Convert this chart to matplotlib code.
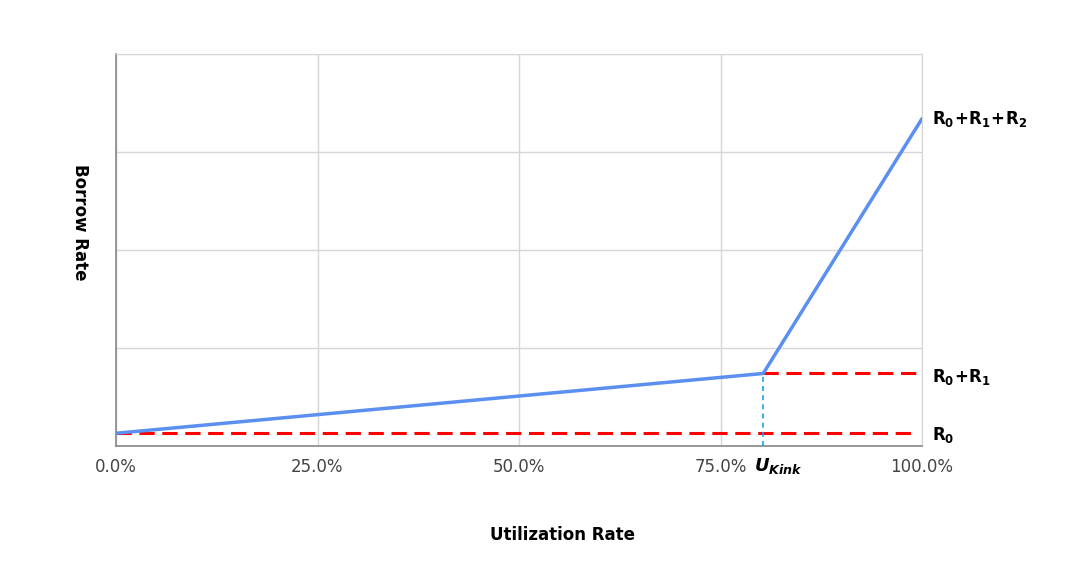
import matplotlib
matplotlib.use("Agg")
import matplotlib.pyplot as plt

# data
util = [0.0, 0.803, 1.0]
rate = [0.13, 0.74, 3.34]
r0 = 0.13
r01 = 0.74
r012 = 3.34
u_kink = 0.803
xticks = [0.0, 0.25, 0.5, 0.75, 1.0]
xtick_labels = ["0.0%", "25.0%", "50.0%", "75.0%", "100.0%"]
yticks = [0, 1, 2, 3, 4]

fig = plt.figure(figsize=(10.7, 5.76), dpi=100)
ax = fig.add_axes([116/1070, 1-446/576, (922-116)/1070, (446-54)/576])
ax.set_xlim(0, 1)
ax.set_ylim(0, 4)

ax.set_xticks(xticks)
ax.set_xticklabels(xtick_labels, fontsize=12, color="#444444")
ax.set_yticks(yticks)
ax.set_yticklabels([])
ax.tick_params(length=0, pad=9)
ax.grid(True, color="#d6d6d6", linewidth=1)
ax.set_axisbelow(True)
for s in ["top", "right"]:
    ax.spines[s].set_color("#d6d6d6")
for s in ["left", "bottom"]:
    ax.spines[s].set_color("#888888")
    ax.spines[s].set_linewidth(1.2)

ax.plot([0, 0.993], [r0, r0], color="#ff0000", linestyle=(0, (5, 2.5)), linewidth=2.2, zorder=3)
ax.plot([u_kink, 0.993], [r01, r01], color="#ff0000", linestyle=(0, (5, 2.5)), linewidth=2.2, zorder=3)
ax.plot([u_kink, u_kink], [0, r01], color="#1aa3e8", linestyle=(0, (3, 2.5)), linewidth=1.2, zorder=3)
ax.plot(util, rate, color="#5b8ff0", linewidth=2.5, zorder=4, solid_capstyle="round")

tr = ax.get_yaxis_transform()
lab_kw = dict(fontsize=12, va="baseline", ha="left", transform=tr)
ax.text(1.012, r012 - 0.05, r"$\mathbf{R_0\!+\!R_1\!+\!R_2}$", **lab_kw)
ax.text(1.012, r01 - 0.09, r"$\mathbf{R_0\!+\!R_1}$", **lab_kw)
ax.text(1.012, r0 - 0.07, r"$\mathbf{R_0}$", **lab_kw)
ax.text(u_kink + 0.019, -0.2, r"$\boldsymbol{U}_{\boldsymbol{Kink}}$", fontsize=13,
        va="center", ha="center", transform=ax.transData)

fig.text(563/1070, 1-535/576, "Utilization Rate", fontsize=12, fontweight="bold",
         ha="center", va="center")
fig.text(80/1070, 1-222/576, "Borrow Rate", fontsize=12, fontweight="bold",
         ha="center", va="center", rotation=-90)

fig.savefig("out.png", dpi=100)
